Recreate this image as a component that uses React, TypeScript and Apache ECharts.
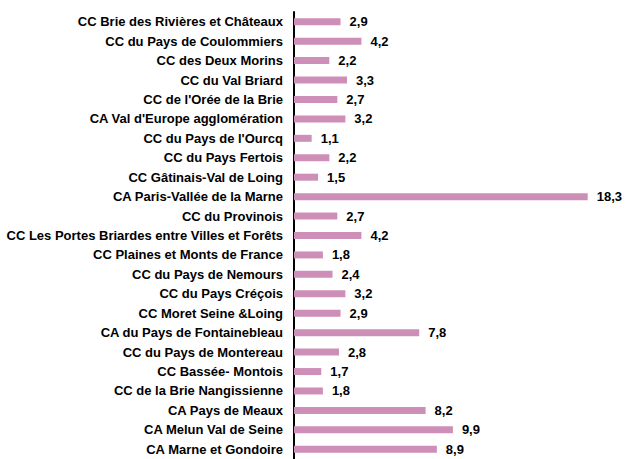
import React, { useEffect, useRef } from "react";
import * as echarts from "echarts";

const categories = [
  "CC Brie des Rivières et Châteaux",
  "CC du Pays de Coulommiers",
  "CC des Deux Morins",
  "CC du Val Briard",
  "CC de l'Orée de la Brie",
  "CA Val d'Europe agglomération",
  "CC du Pays de l'Ourcq",
  "CC du Pays Fertois",
  "CC Gâtinais-Val de Loing",
  "CA Paris-Vallée de la Marne",
  "CC du Provinois",
  "CC Les Portes Briardes entre Villes et Forêts",
  "CC Plaines et Monts de France",
  "CC du Pays de Nemours",
  "CC du Pays Créçois",
  "CC Moret Seine &Loing",
  "CA du Pays de Fontainebleau",
  "CC du Pays de Montereau",
  "CC Bassée- Montois",
  "CC de la Brie Nangissienne",
  "CA Pays de Meaux",
  "CA Melun Val de Seine",
  "CA Marne et Gondoire",
];

const values = [
  2.9, 4.2, 2.2, 3.3, 2.7, 3.2, 1.1, 2.2, 1.5, 18.3, 2.7, 4.2, 1.8, 2.4, 3.2,
  2.9, 7.8, 2.8, 1.7, 1.8, 8.2, 9.9, 8.9,
];

const FONT = "'Liberation Sans', Arial, sans-serif";

export default function App() {
  const ref = useRef<HTMLDivElement>(null);
  useEffect(() => {
    if (!ref.current) return;
    const chart = echarts.init(ref.current, null, { renderer: "svg" });
    chart.setOption({
      animation: false,
      grid: { left: 294, top: 12, width: 321, height: 451, containLabel: false },
      xAxis: {
        type: "value",
        min: 0,
        max: 20,
        show: false,
        splitLine: { show: false },
      },
      yAxis: {
        type: "category",
        data: categories,
        inverse: true,
        axisLine: { show: true, lineStyle: { color: "#000", width: 2 } },
        axisTick: { show: false },
        axisLabel: {
          margin: 11,
          color: "#000",
          fontFamily: FONT,
          fontWeight: "bold",
          fontSize: 13,
        },
      },
      series: [
        {
          type: "bar",
          data: values,
          barWidth: 7,
          itemStyle: { color: "#CD8FB7" },
          label: {
            show: true,
            position: "right",
            distance: 9,
            color: "#000",
            fontFamily: FONT,
            fontWeight: "bold",
            fontSize: 13,
            formatter: (p: any) => p.value.toFixed(1).replace(".", ","),
          },
        },
      ],
    });
    return () => chart.dispose();
  }, []);
  return (
    <div
      ref={ref}
      style={{ position: "fixed", left: 0, top: 0, width: 625, height: 459, background: "#fff" }}
    />
  );
}
